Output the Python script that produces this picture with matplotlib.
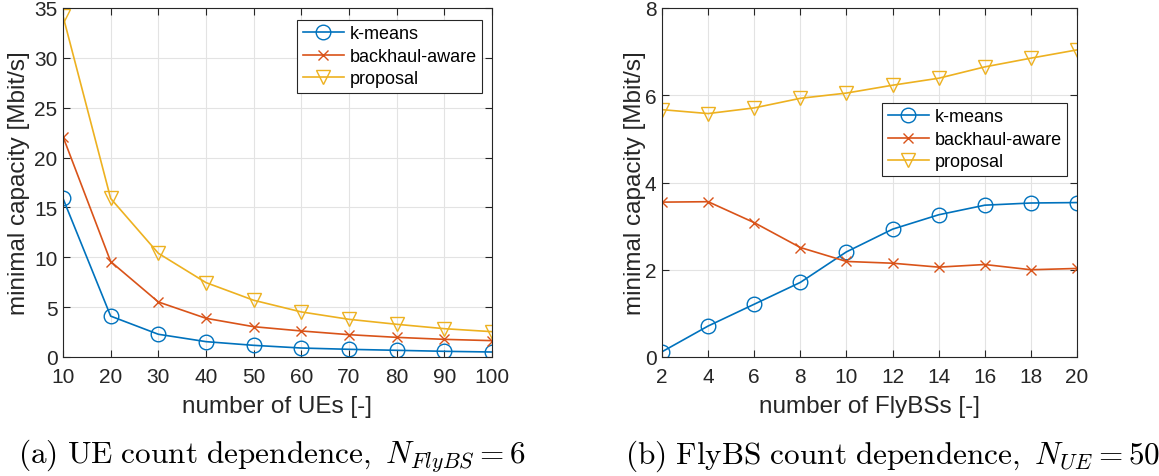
import matplotlib
matplotlib.use("Agg")
import matplotlib.pyplot as plt

plt.rcParams['font.family'] = ['Liberation Sans', 'DejaVu Sans']
plt.rcParams['mathtext.fontset'] = 'cm'

# Data
ue_counts = [10, 20, 30, 40, 50, 60, 70, 80, 90, 100]
ue_kmeans = [15.9, 4.1, 2.28, 1.54, 1.17, 0.9, 0.77, 0.67, 0.57, 0.5]
ue_backhaul = [22.1, 9.57, 5.52, 3.88, 3.04, 2.61, 2.24, 1.97, 1.77, 1.64]
ue_proposal = [34.2, 15.9, 10.4, 7.46, 5.69, 4.52, 3.78, 3.28, 2.84, 2.54]

fly_counts = [2, 4, 6, 8, 10, 12, 14, 16, 18, 20]
fly_kmeans = [0.12, 0.71, 1.21, 1.71, 2.41, 2.93, 3.26, 3.48, 3.53, 3.54]
fly_backhaul = [3.55, 3.56, 3.08, 2.51, 2.19, 2.15, 2.06, 2.12, 2.0, 2.03]
fly_proposal = [5.67, 5.58, 5.71, 5.93, 6.05, 6.23, 6.39, 6.65, 6.85, 7.04]

labels = ['k-means', 'backhaul-aware', 'proposal']
colors = ['#0072BD', '#D95319', '#EDB120']
markers = ['o', 'x', 'v']

W, H = 1159, 477
fig = plt.figure(figsize=(W / 100, H / 100), dpi=100)

top, bottom = 9, 358
ax1 = fig.add_axes([63 / W, 1 - bottom / H, (492 - 63) / W, (bottom - top) / H])
ax2 = fig.add_axes([662 / W, 1 - bottom / H, (1077 - 662) / W, (bottom - top) / H])

axc = '#262626'

def style(ax):
    ax.grid(True, color='#e3e3e3', linewidth=0.8)
    ax.set_axisbelow(True)
    for s in ax.spines.values():
        s.set_color(axc)
        s.set_linewidth(0.8)
    ax.tick_params(direction='in', top=True, right=True, length=5, width=0.8,
                   colors=axc, labelsize=15)
    ax.tick_params(axis='x', pad=7)
    ax.tick_params(axis='y', pad=4)

def plot_series(ax, x, ys):
    for y, lab, c, m in zip(ys, labels, colors, markers):
        if m == 'x':
            ax.plot(x, y, color=c, marker=m, markersize=7, markeredgewidth=1.0,
                    linewidth=1.2, label=lab)
        else:
            ax.plot(x, y, color=c, marker=m, markersize=10.5, markerfacecolor='none',
                    markeredgewidth=1.0, linewidth=1.2, label=lab)

def add_legend(ax, right, topy):
    leg = ax.legend(loc='upper right', bbox_to_anchor=(right / W, 1 - topy / H),
                    bbox_transform=fig.transFigure, fontsize=13, frameon=True,
                    fancybox=False, edgecolor='#262626', framealpha=1,
                    handlelength=2.3, borderpad=0.3, labelspacing=0.3,
                    handletextpad=0.3, borderaxespad=0)
    leg.get_frame().set_linewidth(0.8)

plot_series(ax1, ue_counts, [ue_kmeans, ue_backhaul, ue_proposal])
ax1.set_xlim(10, 100)
ax1.set_ylim(0, 35)
ax1.set_xticks(ue_counts)
ax1.set_yticks(range(0, 36, 5))
ax1.set_xlabel('number of UEs [-]', fontsize=17.5, color=axc, labelpad=7)
ax1.set_ylabel('minimal capacity [Mbit/s]', fontsize=17.5, color=axc, labelpad=3)
style(ax1)
add_legend(ax1, 482, 21)

plot_series(ax2, fly_counts, [fly_kmeans, fly_backhaul, fly_proposal])
ax2.set_xlim(2, 20)
ax2.set_ylim(0, 8)
ax2.set_xticks(fly_counts)
ax2.set_yticks(range(0, 9, 2))
ax2.set_xlabel('number of FlyBSs [-]', fontsize=17.5, color=axc, labelpad=7)
ax2.set_ylabel('minimal capacity [Mbit/s]', fontsize=17.5, color=axc, labelpad=-1)
style(ax2)
add_legend(ax2, 1067, 104)

fig.text(272 / W, 1 - 464 / H,
         r'$\mathrm{(a)\ UE\ count\ dependence,}\ N_{FlyBS}=6$',
         ha='center', va='baseline', fontsize=22.5)
fig.text(893 / W, 1 - 464 / H,
         r'$\mathrm{(b)\ FlyBS\ count\ dependence,}\ N_{UE}=50$',
         ha='center', va='baseline', fontsize=22.5)

fig.savefig('out.png', dpi=100)
